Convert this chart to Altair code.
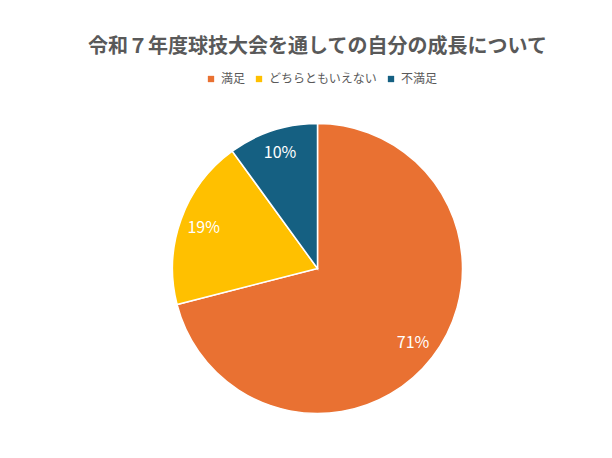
import pandas as pd
import altair as alt

categories = ["満足", "どちらともいえない", "不満足"]
shares = [71, 19, 10]
colors = ["#E97132", "#FFC000", "#156082"]

df = pd.DataFrame({
    "answer": categories,
    "share": shares,
    "order": list(range(len(categories))),
})
df["label"] = df["share"].astype(str) + "%"

font = "Noto Sans CJK JP"

base = alt.Chart(df).encode(
    theta=alt.Theta("share:Q", stack=True),
    order=alt.Order("order:Q"),
)

pie = base.mark_arc(outerRadius=145, stroke="white", strokeWidth=1.5).encode(
    color=alt.Color(
        "answer:N",
        scale=alt.Scale(domain=categories, range=colors),
        sort=categories,
        legend=alt.Legend(
            title=None,
            orient="none",
            direction="horizontal",
            legendX=167,
            legendY=-25,
            symbolType="square",
            symbolSize=40,
            symbolStrokeWidth=0,
            labelFont=font,
            labelFontSize=12,
            labelColor="#595959",
            labelOffset=4,
            columnPadding=7,
        ),
    )
)

labels = base.mark_text(radius=121, color="white", font=font, fontSize=16).encode(
    text="label:N"
)

chart = (
    alt.layer(pie, labels)
    .properties(
        width=559,
        height=341,
        padding={"left": 30, "top": 90, "right": 7, "bottom": 11},
        autosize=alt.AutoSizeParams(type="none"),
        title=alt.Title(
            "令和７年度球技大会を通しての自分の成長について",
            font=font,
            fontSize=20,
            fontWeight="bold",
            color="#595959",
            anchor="middle",
            offset=16,
        ),
    )
    .configure_view(stroke=None)
)

chart.save("out.html", embed_options={"renderer": "svg", "actions": False})
